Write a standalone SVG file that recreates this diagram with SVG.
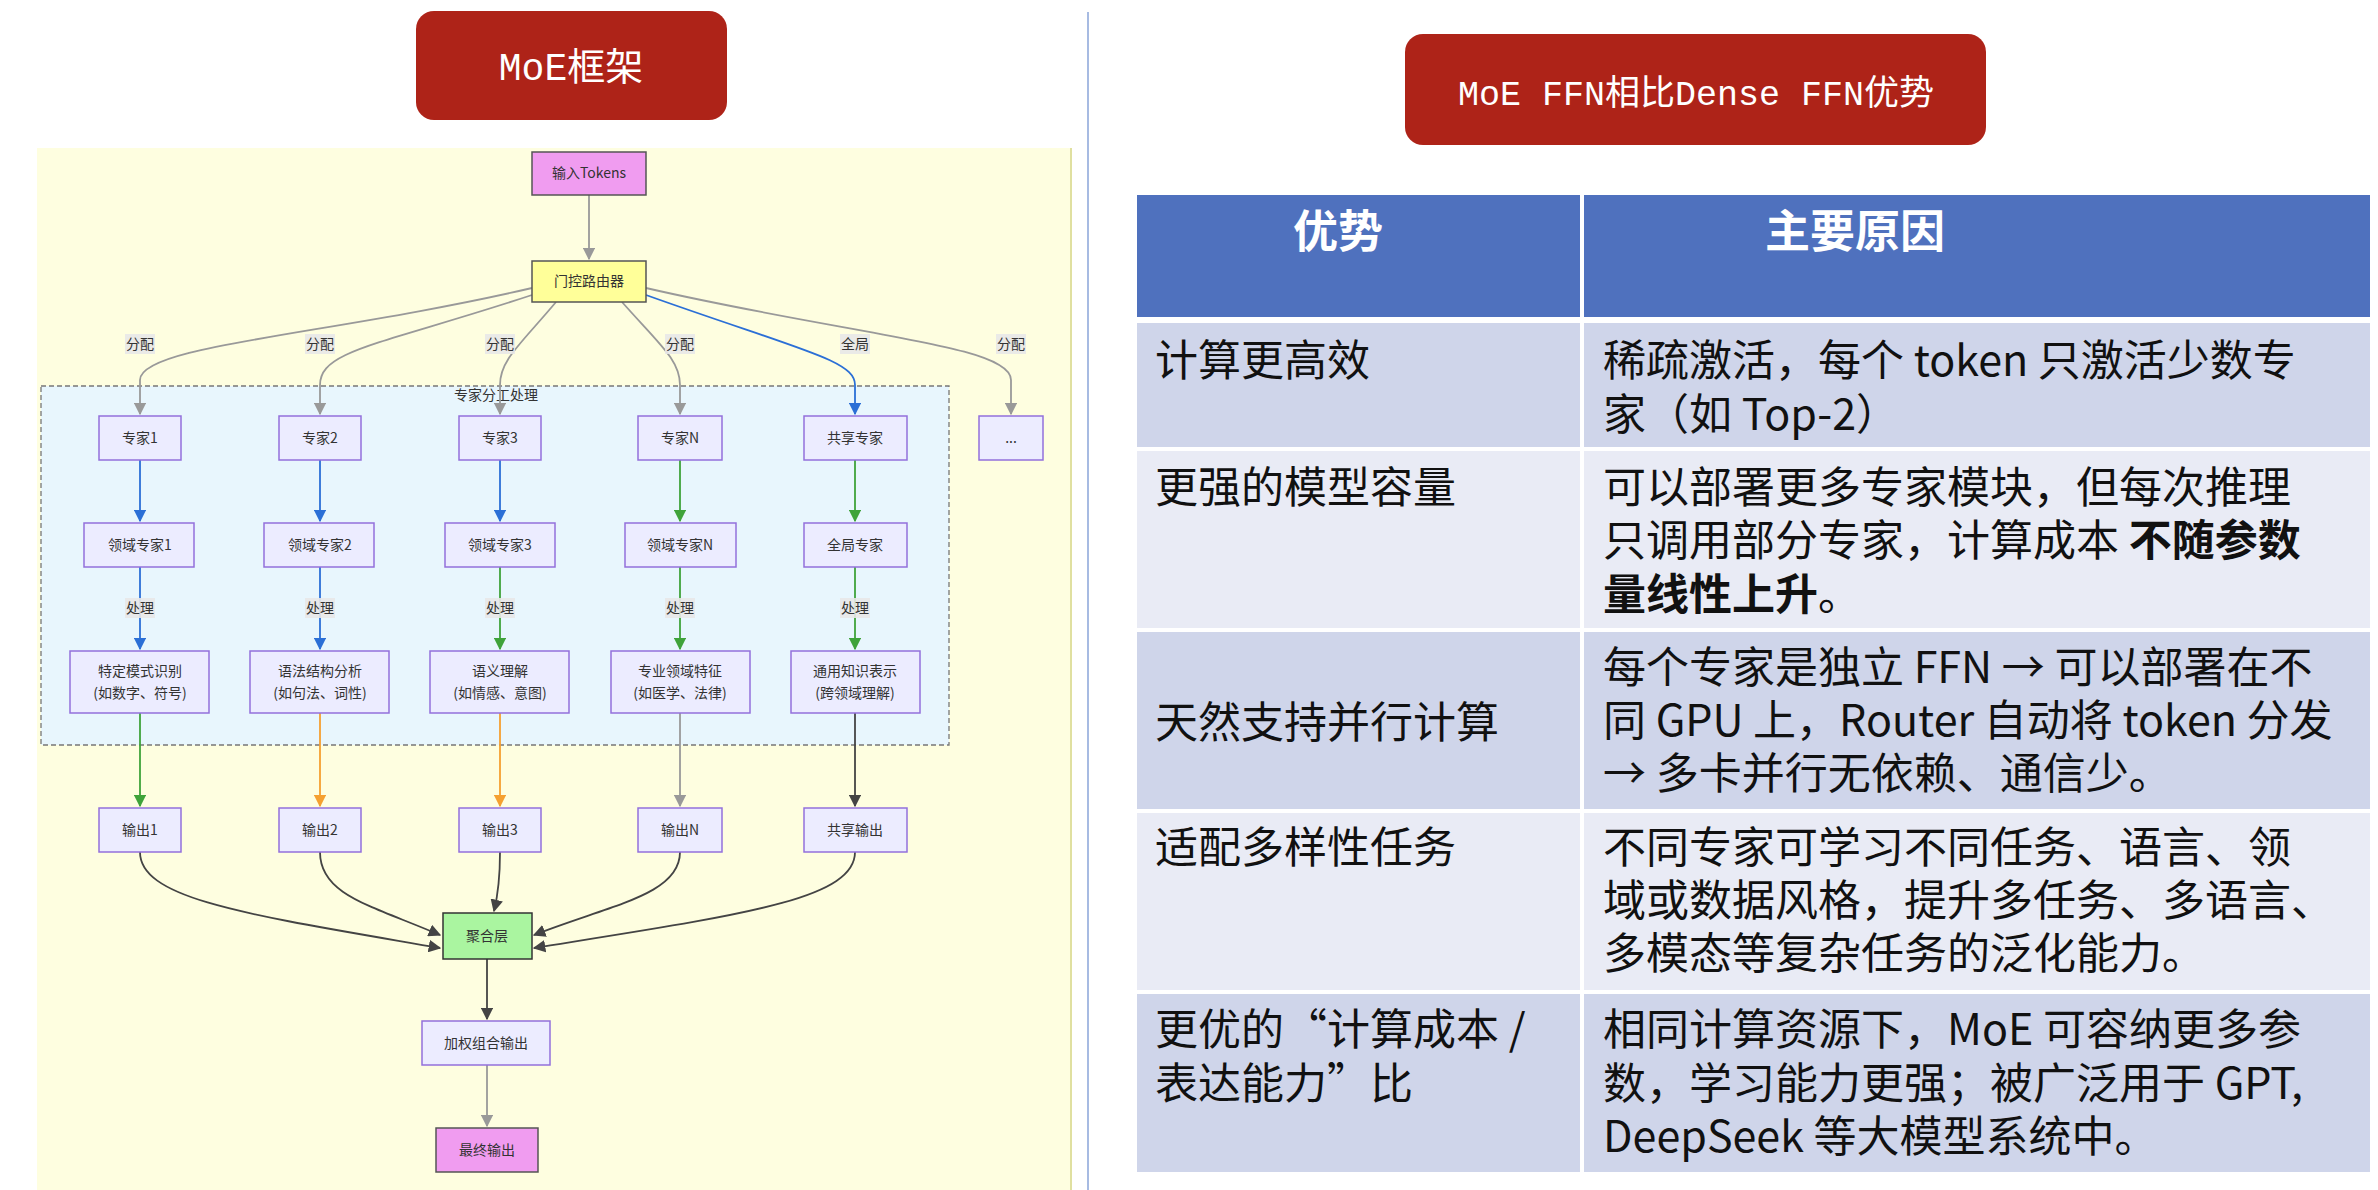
<svg xmlns="http://www.w3.org/2000/svg" width="2378" height="1190" viewBox="0 0 2378 1190">
<defs>
<style>
.n{fill:#ececff;stroke:#9370db;stroke-width:1.5}
.t{font-family:"Noto Sans CJK SC","Liberation Sans",sans-serif;font-size:14px;fill:#333;text-anchor:middle}
.lb{fill:#e8e8e8;opacity:0.9}
.e{fill:none;stroke-width:1.8}
.gray{stroke:#999}.blue{stroke:#2b6fd6}.green{stroke:#3fa33a}.orange{stroke:#f5a030}.dark{stroke:#444}
.title{font-family:"Liberation Mono","Noto Sans CJK SC",monospace;fill:#fff;text-anchor:middle}
.bt{font-family:"Noto Sans CJK SC","Noto Sans",sans-serif;font-size:43px;fill:#111}
.ht{font-family:"Noto Sans CJK SC",sans-serif;font-size:45px;font-weight:bold;fill:#fff;text-anchor:middle}
</style>
<marker id="mg" viewBox="0 0 10 10" refX="9" refY="5" markerWidth="7" markerHeight="7" orient="auto"><path d="M0,0L10,5L0,10z" fill="#999"/></marker>
<marker id="mb" viewBox="0 0 10 10" refX="9" refY="5" markerWidth="7" markerHeight="7" orient="auto"><path d="M0,0L10,5L0,10z" fill="#2b6fd6"/></marker>
<marker id="mgr" viewBox="0 0 10 10" refX="9" refY="5" markerWidth="7" markerHeight="7" orient="auto"><path d="M0,0L10,5L0,10z" fill="#3fa33a"/></marker>
<marker id="mo" viewBox="0 0 10 10" refX="9" refY="5" markerWidth="7" markerHeight="7" orient="auto"><path d="M0,0L10,5L0,10z" fill="#f5a030"/></marker>
<marker id="md" viewBox="0 0 10 10" refX="9" refY="5" markerWidth="7" markerHeight="7" orient="auto"><path d="M0,0L10,5L0,10z" fill="#444"/></marker>
</defs>
<rect width="2378" height="1190" fill="#fff"/>
<line x1="1088" y1="12" x2="1088" y2="1190" stroke="#8aa4d8" stroke-width="1.5"/>
<g id="title-left"><rect x="416" y="11" width="311" height="109" rx="18" fill="#ae2318"/><text class="title" x="571" y="80" font-size="38">MoE框架</text></g>
<rect x="37" y="148" width="1034" height="1042" fill="#fefee0"/>
<line x1="1071" y1="148" x2="1071" y2="1190" stroke="#e0e0a0" stroke-width="2"/>
<g id="subgraph"><rect x="41" y="386" width="908" height="359" fill="#e8f6fd" stroke="#777" stroke-width="1.3" stroke-dasharray="5,3"/><text class="t" x="496" y="400">专家分工处理</text></g>
<g id="connectors">
<path class="e gray" marker-end="url(#mg)" d="M589,195 L589,259"/>
<path class="e gray" marker-end="url(#mg)" d="M532,288 C330,335 140,345 140,380 L140,414"/>
<path class="e gray" marker-end="url(#mg)" d="M532,295 C380,345 320,350 320,385 L320,414"/>
<path class="e gray" marker-end="url(#mg)" d="M556,302 C520,345 500,360 500,385 L500,414"/>
<path class="e gray" marker-end="url(#mg)" d="M622,302 C660,345 680,360 680,385 L680,414"/>
<path class="e blue" marker-end="url(#mb)" d="M646,295 C800,350 855,360 855,385 L855,414"/>
<path class="e gray" marker-end="url(#mg)" d="M646,288 C850,335 1011,345 1011,380 L1011,414"/>
<path class="e blue" marker-end="url(#mb)" d="M140,460 L140,521"/>
<path class="e blue" marker-end="url(#mb)" d="M320,460 L320,521"/>
<path class="e blue" marker-end="url(#mb)" d="M500,460 L500,521"/>
<path class="e green" marker-end="url(#mgr)" d="M680,460 L680,521"/>
<path class="e green" marker-end="url(#mgr)" d="M855,460 L855,521"/>
<path class="e blue" marker-end="url(#mb)" d="M140,567 L140,649"/>
<path class="e blue" marker-end="url(#mb)" d="M320,567 L320,649"/>
<path class="e green" marker-end="url(#mgr)" d="M500,567 L500,649"/>
<path class="e green" marker-end="url(#mgr)" d="M680,567 L680,649"/>
<path class="e green" marker-end="url(#mgr)" d="M855,567 L855,649"/>
<path class="e green" marker-end="url(#mgr)" d="M140,713 L140,806"/>
<path class="e orange" marker-end="url(#mo)" d="M320,713 L320,806"/>
<path class="e orange" marker-end="url(#mo)" d="M500,713 L500,806"/>
<path class="e gray" stroke="#888" marker-end="url(#mg)" d="M680,713 L680,806"/>
<path class="e dark" marker-end="url(#md)" d="M855,713 L855,806"/>
<path class="e dark" marker-end="url(#md)" d="M140,852 C140,900 250,915 440,948"/>
<path class="e dark" marker-end="url(#md)" d="M320,852 C320,895 370,905 440,935"/>
<path class="e dark" marker-end="url(#md)" d="M500,852 C500,880 498,895 494,911"/>
<path class="e dark" marker-end="url(#md)" d="M680,852 C680,895 610,905 534,935"/>
<path class="e dark" marker-end="url(#md)" d="M855,852 C855,900 740,915 534,948"/>
<path class="e dark" marker-end="url(#md)" d="M487,959 L487,1019"/>
<path class="e gray" stroke="#888" marker-end="url(#mg)" d="M487,1065 L487,1126"/>
<g>
<rect class="lb" x="125" y="334" width="30" height="20"/><text class="t" x="140" y="349">分配</text>
<rect class="lb" x="305" y="334" width="30" height="20"/><text class="t" x="320" y="349">分配</text>
<rect class="lb" x="485" y="334" width="30" height="20"/><text class="t" x="500" y="349">分配</text>
<rect class="lb" x="665" y="334" width="30" height="20"/><text class="t" x="680" y="349">分配</text>
<rect class="lb" x="840" y="334" width="30" height="20"/><text class="t" x="855" y="349">全局</text>
<rect class="lb" x="996" y="334" width="30" height="20"/><text class="t" x="1011" y="349">分配</text>
<rect class="lb" x="125" y="598" width="30" height="20"/><text class="t" x="140" y="613">处理</text>
<rect class="lb" x="305" y="598" width="30" height="20"/><text class="t" x="320" y="613">处理</text>
<rect class="lb" x="485" y="598" width="30" height="20"/><text class="t" x="500" y="613">处理</text>
<rect class="lb" x="665" y="598" width="30" height="20"/><text class="t" x="680" y="613">处理</text>
<rect class="lb" x="840" y="598" width="30" height="20"/><text class="t" x="855" y="613">处理</text>
</g>
</g>
<g id="input"><rect x="532" y="152" width="114" height="43" fill="#f09cf0" stroke="#555" stroke-width="1.5"/><text class="t" x="589" y="178">输入Tokens</text></g>
<g id="router"><rect x="532" y="261" width="114" height="41" fill="#ffff99" stroke="#555" stroke-width="1.5"/><text class="t" x="589" y="286">门控路由器</text></g>
<g id="e1"><rect class="n" x="99" y="416" width="82" height="44"/><text class="t" x="140" y="443">专家1</text></g>
<g id="e2"><rect class="n" x="279" y="416" width="82" height="44"/><text class="t" x="320" y="443">专家2</text></g>
<g id="e3"><rect class="n" x="459" y="416" width="82" height="44"/><text class="t" x="500" y="443">专家3</text></g>
<g id="eN"><rect class="n" x="638" y="416" width="84" height="44"/><text class="t" x="680" y="443">专家N</text></g>
<g id="es"><rect class="n" x="804" y="416" width="103" height="44"/><text class="t" x="855" y="443">共享专家</text></g>
<g id="emore"><rect class="n" x="979" y="416" width="64" height="44"/><text class="t" x="1011" y="443">...</text></g>
<g id="d1"><rect class="n" x="84" y="523" width="110" height="44"/><text class="t" x="140" y="550">领域专家1</text></g>
<g id="d2"><rect class="n" x="264" y="523" width="110" height="44"/><text class="t" x="320" y="550">领域专家2</text></g>
<g id="d3"><rect class="n" x="445" y="523" width="110" height="44"/><text class="t" x="500" y="550">领域专家3</text></g>
<g id="dN"><rect class="n" x="625" y="523" width="111" height="44"/><text class="t" x="680" y="550">领域专家N</text></g>
<g id="ds"><rect class="n" x="804" y="523" width="103" height="44"/><text class="t" x="855" y="550">全局专家</text></g>
<g id="f1"><rect class="n" x="70" y="651" width="139" height="62"/><text class="t" x="140" y="676">特定模式识别</text><text class="t" x="140" y="698">(如数字、符号)</text></g>
<g id="f2"><rect class="n" x="250" y="651" width="139" height="62"/><text class="t" x="320" y="676">语法结构分析</text><text class="t" x="320" y="698">(如句法、词性)</text></g>
<g id="f3"><rect class="n" x="430" y="651" width="139" height="62"/><text class="t" x="500" y="676">语义理解</text><text class="t" x="500" y="698">(如情感、意图)</text></g>
<g id="fN"><rect class="n" x="611" y="651" width="139" height="62"/><text class="t" x="680" y="676">专业领域特征</text><text class="t" x="680" y="698">(如医学、法律)</text></g>
<g id="fs"><rect class="n" x="791" y="651" width="129" height="62"/><text class="t" x="855" y="676">通用知识表示</text><text class="t" x="855" y="698">(跨领域理解)</text></g>
<g id="o1"><rect class="n" x="99" y="808" width="82" height="44"/><text class="t" x="140" y="835">输出1</text></g>
<g id="o2"><rect class="n" x="279" y="808" width="82" height="44"/><text class="t" x="320" y="835">输出2</text></g>
<g id="o3"><rect class="n" x="459" y="808" width="82" height="44"/><text class="t" x="500" y="835">输出3</text></g>
<g id="oN"><rect class="n" x="638" y="808" width="84" height="44"/><text class="t" x="680" y="835">输出N</text></g>
<g id="os"><rect class="n" x="804" y="808" width="103" height="44"/><text class="t" x="855" y="835">共享输出</text></g>
<g id="agg"><rect x="443" y="913" width="89" height="46" fill="#aaf5a0" stroke="#333" stroke-width="1.5"/><text class="t" x="487" y="941">聚合层</text></g>
<g id="wsum"><rect class="n" x="422" y="1021" width="128" height="44"/><text class="t" x="486" y="1048">加权组合输出</text></g>
<g id="final"><rect x="436" y="1128" width="102" height="44" fill="#f09cf0" stroke="#555" stroke-width="1.5"/><text class="t" x="487" y="1155">最终输出</text></g>
<g id="title-right"><rect x="1405" y="34" width="581" height="111" rx="18" fill="#ae2318"/><text class="title" x="1696" y="105" font-size="35">MoE FFN相比Dense FFN优势</text></g>
<g id="table">
<rect x="1137" y="195" width="443" height="122" fill="#4f71be"/><rect x="1584" y="195" width="786" height="122" fill="#4f71be"/>
<text class="ht" x="1338" y="248">优势</text><text class="ht" x="1855" y="248">主要原因</text>
<rect x="1137" y="323" width="443" height="124" fill="#cfd5ea"/><rect x="1584" y="323" width="786" height="124" fill="#cfd5ea"/>
<rect x="1137" y="451" width="443" height="177" fill="#e9ebf5"/><rect x="1584" y="451" width="786" height="177" fill="#e9ebf5"/>
<rect x="1137" y="632" width="443" height="177" fill="#cfd5ea"/><rect x="1584" y="632" width="786" height="177" fill="#cfd5ea"/>
<rect x="1137" y="813" width="443" height="177" fill="#e9ebf5"/><rect x="1584" y="813" width="786" height="177" fill="#e9ebf5"/>
<rect x="1137" y="994" width="443" height="178" fill="#cfd5ea"/><rect x="1584" y="994" width="786" height="178" fill="#cfd5ea"/>
<text class="bt" x="1155" y="376">计算更高效</text>
<text class="bt" x="1603" y="376">稀疏激活，每个 token 只激活少数专</text>
<text class="bt" x="1603" y="430">家（如 Top-2）</text>
<text class="bt" x="1155" y="503">更强的模型容量</text>
<text class="bt" x="1603" y="503">可以部署更多专家模块，但每次推理</text>
<text class="bt" x="1603" y="556">只调用部分专家，计算成本 <tspan font-weight="bold">不随参数</tspan></text>
<text class="bt" x="1603" y="610" font-weight="bold">量线性上升<tspan font-weight="normal">。</tspan></text>
<text class="bt" x="1155" y="738">天然支持并行计算</text>
<text class="bt" x="1603" y="683">每个专家是独立 FFN → 可以部署在不</text>
<text class="bt" x="1603" y="736">同 GPU 上，Router 自动将 token 分发</text>
<text class="bt" x="1603" y="789">→ 多卡并行无依赖、通信少。</text>
<text class="bt" x="1155" y="863">适配多样性任务</text>
<text class="bt" x="1603" y="863">不同专家可学习不同任务、语言、领</text>
<text class="bt" x="1603" y="916">域或数据风格，提升多任务、多语言、</text>
<text class="bt" x="1603" y="969">多模态等复杂任务的泛化能力。</text>
<text class="bt" x="1155" y="1045">更优的“计算成本 /</text>
<text class="bt" x="1155" y="1099">表达能力”比</text>
<text class="bt" x="1603" y="1045">相同计算资源下，MoE 可容纳更多参</text>
<text class="bt" x="1603" y="1099">数，学习能力更强；被广泛用于 GPT,</text>
<text class="bt" x="1603" y="1152">DeepSeek 等大模型系统中。</text>
</g>
</svg>
